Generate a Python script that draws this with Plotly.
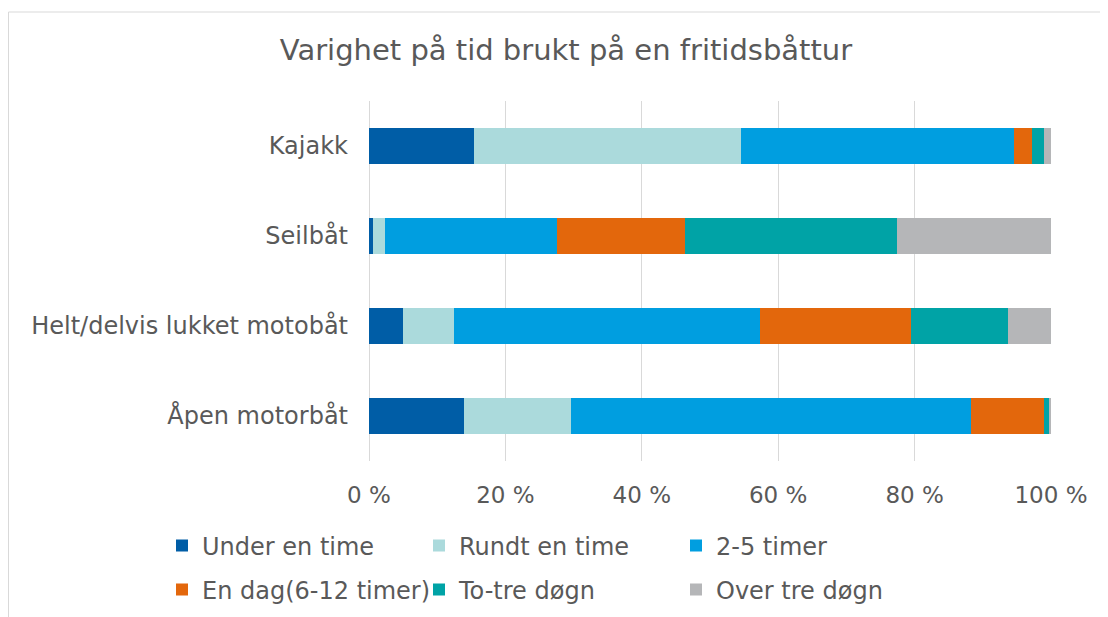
import plotly.graph_objects as go

categories = ["Åpen motorbåt", "Helt/delvis lukket motobåt", "Seilbåt", "Kajakk"]

series_names = ["Under en time", "Rundt en time", "2-5 timer",
                "En dag(6-12 timer)", "To-tre døgn", "Over tre døgn"]

under_en_time = [13.9, 5.0, 0.6, 15.4]
rundt_en_time = [15.7, 7.5, 1.8, 39.1]
to_fem_timer = [58.7, 44.9, 25.1, 40.1]
en_dag = [10.6, 22.0, 18.9, 2.6]
to_tre_dogn = [0.9, 14.3, 31.0, 1.8]
over_tre_dogn = [0.2, 6.3, 22.6, 1.0]

colors = ["#005DA6", "#ABDADC", "#009EE0", "#E3670C", "#00A3A6", "#B5B6B8"]

values = [under_en_time, rundt_en_time, to_fem_timer, en_dag, to_tre_dogn, over_tre_dogn]

FONT = "DejaVu Sans"
GREY = "#595959"

# page has an 8px body margin, so the figure is drawn 8px in from the corner
W, H = 1100, 609
ml, mr, mt, mb = 361, 57, 93, 156
pw, ph = W - ml - mr, H - mt - mb


def px_x(p):
    return (p - ml) / pw


def px_y(p):
    return 1 - (p - mt) / ph


fig = go.Figure()
for i, (name, vals, col) in enumerate(zip(series_names, values, colors)):
    fig.add_trace(go.Bar(
        y=categories, x=vals, name=name, orientation="h",
        marker=dict(color=col, line=dict(width=0)),
        width=0.4,
        legend="legend" if i < 3 else "legend2",
    ))

legend_style = dict(orientation="h", xanchor="left", yanchor="middle",
                    entrywidth=212, entrywidthmode="pixels",
                    font=dict(size=24, color=GREY, family=FONT),
                    traceorder="normal", itemwidth=30,
                    bgcolor="rgba(0,0,0,0)")

fig.update_layout(
    barmode="stack",
    width=W, height=H,
    margin=dict(l=ml, r=mr, t=mt, b=mb, autoexpand=False),
    paper_bgcolor="white", plot_bgcolor="white",
    font=dict(family=FONT, color=GREY),
    title=dict(text="Varighet på tid brukt på en fritidsbåttur",
               x=558 / W, xanchor="center", xref="container",
               y=1 - 42 / H, yanchor="middle", yref="container",
               font=dict(size=29, color=GREY, family=FONT)),
    legend=dict(x=px_x(154), y=px_y(538), **legend_style),
    legend2=dict(x=px_x(154), y=px_y(582), **legend_style),
    shapes=[
        dict(type="line", xref="paper", yref="paper",
             x0=px_x(0.5), x1=px_x(W + 20), y0=px_y(4), y1=px_y(4),
             line=dict(color="#D9D9D9", width=1)),
        dict(type="line", xref="paper", yref="paper",
             x0=px_x(0.5), x1=px_x(0.5), y0=px_y(4), y1=px_y(H + 20),
             line=dict(color="#D9D9D9", width=1)),
    ],
)

fig.update_xaxes(range=[0, 100], dtick=20, ticksuffix=" %",
                 showgrid=True, gridcolor="#D9D9D9", gridwidth=1,
                 zeroline=True, zerolinecolor="#D9D9D9", zerolinewidth=1,
                 tickfont=dict(size=23, color=GREY, family=FONT),
                 ticklabelstandoff=18, showline=False)
fig.update_yaxes(tickfont=dict(size=24, color=GREY, family=FONT),
                 ticklabelstandoff=20, showline=False, showgrid=False,
                 range=[-0.5, 3.5])

fig.write_html("out.html")
